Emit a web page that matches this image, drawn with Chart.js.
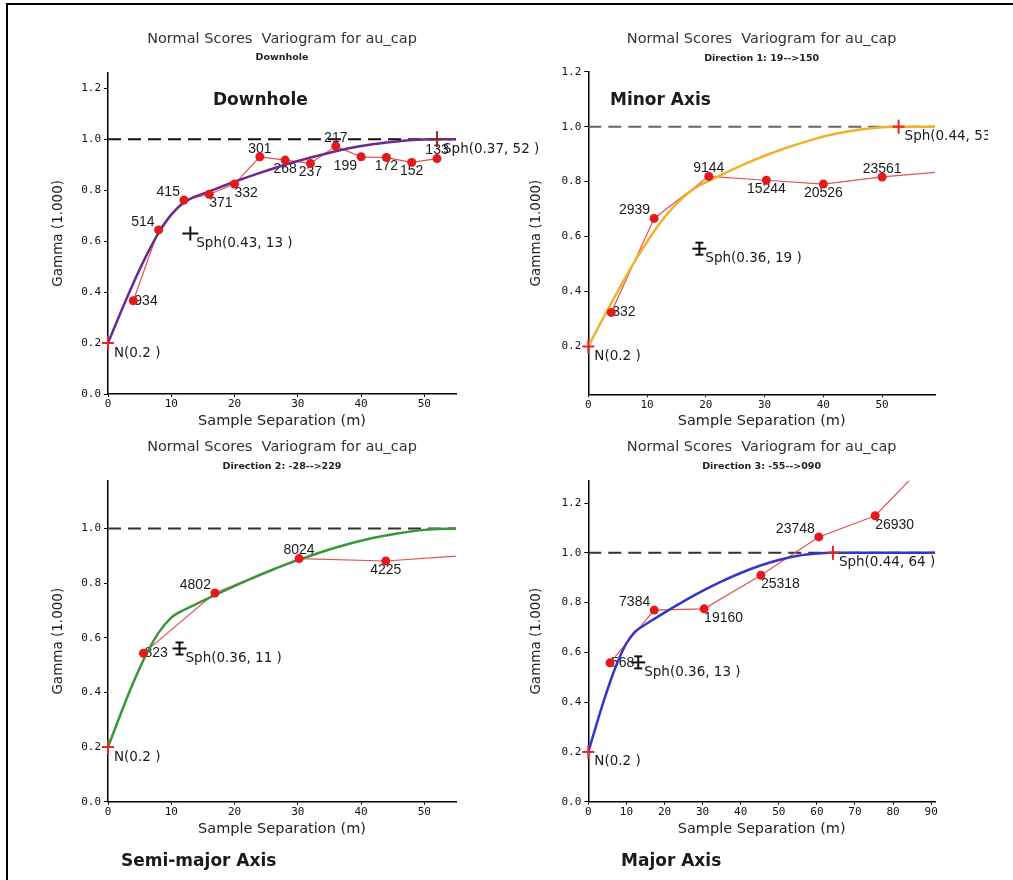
<!DOCTYPE html>
<html>
<head>
<meta charset="utf-8">
<script src="https://cdn.jsdelivr.net/npm/chart.js@4.4.1/dist/chart.umd.min.js"></script>
<style>
  body { margin: 0; background: #fff; }
  #page { position: relative; width: 1013px; height: 880px; overflow: hidden; background: #fff; }
  #frame { position: absolute; left: 6px; top: 3px; width: 1100px; height: 1000px; border-top: 2px solid #000; border-left: 2px solid #000; }
  canvas { position: absolute; }
  .tag { position: absolute; font: bold 17px "DejaVu Sans", Verdana, sans-serif; color: #1a1a1a; line-height: 17px; white-space: nowrap; }
</style>
</head>
<body>
<div id="page">
  <div id="frame"></div>
  <canvas id="c1" width="545" height="440" style="left:0;top:0"></canvas>
  <canvas id="c2" width="488" height="440" style="left:500px;top:0"></canvas>
  <canvas id="c3" width="545" height="420" style="left:0;top:430px"></canvas>
  <canvas id="c4" width="488" height="420" style="left:500px;top:430px"></canvas>
  <div class="tag" style="left:213px;top:91px">Downhole</div>
  <div class="tag" style="left:610px;top:91px">Minor Axis</div>
  <div class="tag" style="left:121px;top:852px">Semi-major Axis</div>
  <div class="tag" style="left:621px;top:852px">Major Axis</div>
</div>
<script>
// experimental variogram points (lag, gamma, number of pairs)
const dhLag = [4, 8, 12, 16, 20, 24, 28, 32, 36, 40, 44, 48, 52];
const dhGamma = [0.366, 0.644, 0.761, 0.784, 0.824, 0.931, 0.918, 0.905, 0.973, 0.931, 0.928, 0.909, 0.924];
const dhPairs = ["934", "514", "415", "371", "332", "301", "268", "237", "217", "199", "172", "152", "133"];

const mnLag = [3.9, 11.2, 20.5, 30.3, 40.0, 50.0, 61];
const mnGamma = [0.324, 0.666, 0.819, 0.805, 0.791, 0.817, 0.837];
const mnPairs = ["332", "2939", "9144", "15244", "20526", "23561", ""];

const smLag = [5.6, 16.9, 30.2, 43.9, 58];
const smGamma = [0.543, 0.764, 0.890, 0.881, 0.904];
const smPairs = ["823", "4802", "8024", "4225", ""];

const mjLag = [5.7, 17.3, 30.4, 45.3, 60.5, 75.3, 90.5];
const mjGamma = [0.558, 0.770, 0.775, 0.910, 1.064, 1.149, 1.39];
const mjPairs = ["568", "7384", "19160", "25318", "23748", "26930", ""];

// fitted model curves
const dhModelLag = [0, 2, 4, 6, 8, 10, 12, 13, 16, 20, 24, 28, 32, 36, 40, 44, 48, 52, 55];
const dhModel = [0.2, 0.320, 0.435, 0.540, 0.632, 0.704, 0.752, 0.766, 0.795, 0.833, 0.868, 0.900, 0.928, 0.953, 0.973, 0.987, 0.997, 1.0, 1.0];

const mnModelLag = [0, 2, 4, 6, 8, 10, 12, 14, 16, 18, 19, 22, 26, 30, 34, 38, 42, 46, 50, 53, 59];
const mnModel = [0.2, 0.282, 0.362, 0.439, 0.513, 0.581, 0.643, 0.696, 0.740, 0.774, 0.787, 0.818, 0.858, 0.894, 0.925, 0.952, 0.974, 0.989, 0.998, 1.0, 1.0];

const smModelLag = [0, 2, 4, 6, 8, 10, 11, 14, 18, 22, 26, 30, 34, 38, 42, 46, 50, 55];
const smModel = [0.2, 0.321, 0.436, 0.537, 0.619, 0.674, 0.690, 0.724, 0.768, 0.810, 0.849, 0.884, 0.916, 0.943, 0.966, 0.983, 0.995, 1.0];

const mjModelLag = [0, 2, 4, 6, 8, 10, 12, 13, 16, 20, 25, 30, 35, 40, 45, 50, 55, 60, 64, 91];
const mjModel = [0.2, 0.303, 0.402, 0.493, 0.572, 0.636, 0.679, 0.692, 0.722, 0.760, 0.805, 0.847, 0.885, 0.919, 0.948, 0.971, 0.988, 0.997, 1.0, 1.0];

// model structure markers
const dhMarkLag = [0, 13, 52];
const dhMarkGamma = [0.2, 0.63, 1.0];
const dhMarkText = ["N(0.2 )", "Sph(0.43, 13 )", "Sph(0.37, 52 )"];

const mnMarkLag = [0, 18.9, 52.8];
const mnMarkGamma = [0.2, 0.556, 1.0];
const mnMarkText = ["N(0.2 )", "Sph(0.36, 19 )", "Sph(0.44, 53 )"];

const smMarkLag = [0, 11.3];
const smMarkGamma = [0.2, 0.561];
const smMarkText = ["N(0.2 )", "Sph(0.36, 11 )"];

const mjMarkLag = [0, 13.1, 64.2];
const mjMarkGamma = [0.2, 0.56, 1.0];
const mjMarkText = ["N(0.2 )", "Sph(0.36, 13 )", "Sph(0.44, 64 )"];

const sillGamma = 1.0;
const chartTitle = "Normal Scores  Variogram for au_cap";

function crossMark(color, arm, stem, caps) {
    const c = document.createElement("canvas");
    const s = 2 * Math.max(arm, stem) + 4;
    c.width = s;
    c.height = s;
    const g = c.getContext("2d");
    const m = s / 2;
    g.strokeStyle = color;
    g.lineWidth = 2;
    g.beginPath();
    g.moveTo(m - arm, m); g.lineTo(m + arm, m);
    g.moveTo(m, m - stem); g.lineTo(m, m + stem);
    if (caps) {
        g.moveTo(m - caps, m - stem); g.lineTo(m + caps, m - stem);
        g.moveTo(m - caps, m + stem); g.lineTo(m + caps, m + stem);
    }
    g.stroke();
    return c;
}

const redPlus = crossMark("#e4232a", 6, 7, 0);
const blackPlus = crossMark("#111", 8, 7, 0);
const darkPlus = crossMark("#8a2a2a", 7, 8, 0);
const barPlus = crossMark("#111", 7, 6, 4);

function placeLabel(ctx, text, px, py, where) {
    let align = "center", dx = 0, dy = 0;
    if (where === "a") { dy = -8; }
    else if (where === "b") { dy = 9; }
    else if (where === "al") { align = "right"; dx = -4; dy = -8; }
    else if (where === "bl") { align = "right"; dx = -4; dy = 9; }
    else if (where === "br") { align = "left"; dy = 9; }
    else if (where === "r") { align = "left"; dx = 1; }
    ctx.textAlign = align;
    ctx.fillText(text, px + dx, py + dy);
}

function labelPlugin(p) {
    return {
        id: "varioLabels",
        beforeDatasetsDraw(chart) {
            const ctx = chart.ctx;
            const xs = chart.scales.x;
            const ys = chart.scales.y;
            ctx.save();
            ctx.fillStyle = "#1a1a1a";
            ctx.textBaseline = "middle";
            ctx.font = '14px "Liberation Sans", Arial, sans-serif';
            p.lag.forEach(function (lag, i) {
                if (!p.pairs[i] || lag > xs.max) return;
                placeLabel(ctx, p.pairs[i], xs.getPixelForValue(lag), ys.getPixelForValue(p.gamma[i]), p.place[i]);
            });
            ctx.font = '13.5px "DejaVu Sans", Verdana, sans-serif';
            ctx.textAlign = "left";
            p.markLag.forEach(function (lag, i) {
                ctx.fillText(p.markText[i], xs.getPixelForValue(lag) + 6, ys.getPixelForValue(p.markGamma[i]) + 10);
            });
            ctx.restore();
        }
    };
}

function drawPanel(id, p) {
    const pts = function (xs, ys) {
        return xs.map(function (x, i) { return { x: x, y: ys[i] }; });
    };
    const tickFont = { family: "DejaVu Sans Mono", size: 11 };

    new Chart(document.getElementById(id).getContext("2d"), {
        type: "scatter",
        data: {
            datasets: [
                {
                    data: pts(p.markLag, p.markGamma),
                    pointStyle: function (c) { return p.markStyles[c.dataIndex]; },
                    pointRadius: 6,
                    showLine: false,
                    clip: false
                },
                {
                    data: pts(p.lag, p.gamma),
                    showLine: false,
                    pointRadius: 4.5,
                    pointBackgroundColor: "#e3191c",
                    pointBorderColor: "#e3191c",
                    pointBorderWidth: 0,
                    clip: false
                },
                {
                    data: pts(p.modelLag, p.model),
                    showLine: true,
                    borderColor: p.color,
                    borderWidth: 2.5,
                    pointRadius: 0,
                    cubicInterpolationMode: "monotone"
                },
                {
                    data: pts(p.lag, p.gamma),
                    showLine: true,
                    borderColor: "#e05252",
                    borderWidth: 1.2,
                    pointRadius: 0
                },
                {
                    data: [{ x: 0, y: sillGamma }, { x: p.xMax, y: sillGamma }],
                    showLine: true,
                    borderColor: p.sillColor,
                    borderWidth: 2,
                    borderDash: [13, 7],
                    pointRadius: 0
                }
            ]
        },
        options: {
            responsive: false,
            animation: false,
            events: [],
            layout: { padding: { left: 0, right: p.padRight, top: 0, bottom: 0 } },
            plugins: {
                legend: { display: false },
                tooltip: { enabled: false },
                title: {
                    display: true,
                    text: chartTitle,
                    fullSize: false,
                    color: "#333",
                    font: { family: "DejaVu Sans", size: 14.5, weight: "normal" },
                    padding: { top: p.titleTop, bottom: p.titleGap }
                },
                subtitle: {
                    display: true,
                    text: p.subtitle,
                    fullSize: false,
                    color: "#222",
                    font: { family: "DejaVu Sans", size: 9.5, weight: "bold" },
                    padding: { top: 0, bottom: p.subGap }
                }
            },
            scales: {
                x: {
                    type: "linear",
                    min: 0,
                    max: p.xMax,
                    afterFit: function (s) { s.height = p.xAxisHeight; },
                    ticks: {
                        stepSize: 10,
                        includeBounds: false,
                        maxRotation: 0,
                        autoSkip: false,
                        padding: 1,
                        color: "#111",
                        font: tickFont
                    },
                    grid: { drawOnChartArea: false, drawTicks: true, tickLength: 3, color: "#000" },
                    border: { color: "#000", width: 1.5 },
                    title: {
                        display: true,
                        text: "Sample Separation (m)",
                        color: "#222",
                        font: { family: "DejaVu Sans", size: 14.5 },
                        padding: { top: 0, bottom: p.xTitlePad }
                    }
                },
                y: {
                    min: p.yMin,
                    max: p.yMax,
                    afterFit: function (s) { s.width = p.yAxisWidth; },
                    ticks: {
                        stepSize: 0.2,
                        includeBounds: false,
                        padding: 3,
                        color: "#111",
                        font: tickFont,
                        callback: function (v) { return v.toFixed(1); }
                    },
                    grid: { drawOnChartArea: false, drawTicks: true, tickLength: 4, color: "#000" },
                    border: { color: "#000", width: 1.5 },
                    title: {
                        display: true,
                        text: "Gamma (1.000)",
                        color: "#222",
                        font: { family: "DejaVu Sans", size: 13.5 },
                        padding: { top: p.yTitlePad, bottom: 0 }
                    }
                }
            }
        },
        plugins: [labelPlugin(p)]
    });
}

drawPanel("c1", {
    subtitle: "Downhole",
    lag: dhLag, gamma: dhGamma, pairs: dhPairs,
    place: ["r", "al", "al", "br", "br", "a", "b", "b", "a", "bl", "b", "b", "a"],
    modelLag: dhModelLag, model: dhModel,
    markLag: dhMarkLag, markGamma: dhMarkGamma, markText: dhMarkText,
    markStyles: [redPlus, blackPlus, darkPlus],
    color: "#6a2a90", sillColor: "#111",
    xMax: 55, yMin: 0, yMax: 1.261,
    padRight: 89, yAxisWidth: 108, xAxisHeight: 46,
    titleTop: 30.3, titleGap: 4.6, subGap: 9.0, xTitlePad: 10.3, yTitlePad: 49.9
});

drawPanel("c2", {
    subtitle: "Direction 1: 19-->150",
    lag: mnLag, gamma: mnGamma, pairs: mnPairs,
    place: ["r", "al", "a", "b", "b", "a", "a"],
    modelLag: mnModelLag, model: mnModel,
    markLag: mnMarkLag, markGamma: mnMarkGamma, markText: mnMarkText,
    markStyles: [redPlus, barPlus, redPlus],
    color: "#efb12e", sillColor: "#666",
    xMax: 59, yMin: 0.026, yMax: 1.2,
    padRight: 53, yAxisWidth: 88.3, xAxisHeight: 45.7,
    titleTop: 30.6, titleGap: 5.3, subGap: 7.0, xTitlePad: 9.6, yTitlePad: 28.6
});

drawPanel("c3", {
    subtitle: "Direction 2: -28-->229",
    lag: smLag, gamma: smGamma, pairs: smPairs,
    place: ["r", "al", "a", "b", "b"],
    modelLag: smModelLag, model: smModel,
    markLag: smMarkLag, markGamma: smMarkGamma, markText: smMarkText,
    markStyles: [redPlus, barPlus],
    color: "#3a963a", sillColor: "#333",
    xMax: 55, yMin: 0, yMax: 1.175,
    padRight: 89, yAxisWidth: 108, xAxisHeight: 48.3,
    titleTop: 8.6, titleGap: 5, subGap: 8.3, xTitlePad: 12, yTitlePad: 50.2
});

drawPanel("c4", {
    subtitle: "Direction 3: -55-->090",
    lag: mjLag, gamma: mjGamma, pairs: mjPairs,
    place: ["r", "al", "br", "br", "al", "br", "br"],
    modelLag: mjModelLag, model: mjModel,
    markLag: mjMarkLag, markGamma: mjMarkGamma, markText: mjMarkText,
    markStyles: [redPlus, barPlus, redPlus],
    color: "#3535c8", sillColor: "#333",
    xMax: 91, yMin: 0, yMax: 1.29,
    padRight: 53, yAxisWidth: 88.3, xAxisHeight: 48.3,
    titleTop: 8.6, titleGap: 5, subGap: 8.3, xTitlePad: 12, yTitlePad: 28.6
});
</script>
</body>
</html>
